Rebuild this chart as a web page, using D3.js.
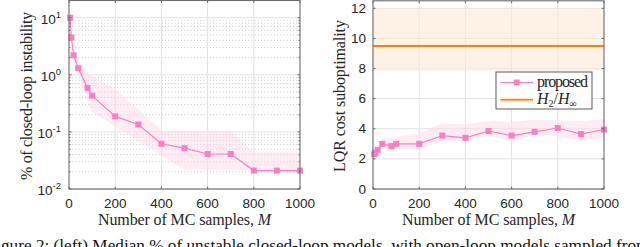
<!DOCTYPE html>
<html>
<head>
<meta charset="utf-8">
<script src="https://cdn.jsdelivr.net/npm/d3@7"></script>
<style>
  body { margin: 0; background: #fff; }
  svg { display: block; }
</style>
</head>
<body>
<svg id="chart" width="640" height="247"></svg>
<script>
// ---- data ----
const samples = [5, 10, 20, 40, 80, 100, 200, 300, 400, 500, 600, 700, 800, 900, 1000]

// left: % closed-loop instability (log scale)
const instabMedian = [10, 4.5, 2.2, 1.31, 0.59, 0.43, 0.187, 0.135, 0.062, 0.052, 0.041, 0.041, 0.021, 0.021, 0.021]
const instabUpper = [10.2, 4.8, 2.5, 1.8, 1.1, 0.95, 0.56, 0.25, 0.105, 0.105, 0.105, 0.105, 0.044, 0.044, 0.044]
const instabLower = [9.5, 4.0, 2.0, 1.1, 0.35, 0.22, 0.126, 0.07, 0.038, 0.022, 0.022, 0.022, 0.021, 0.021, 0.021]

// right: LQR cost suboptimality
const costMedian = [2.3, 2.4, 2.6, 3.0, 2.85, 3.0, 3.0, 3.55, 3.4, 3.85, 3.55, 3.8, 4.05, 3.65, 3.95]
const costUpper = [2.6, 2.7, 2.9, 3.35, 3.4, 3.45, 3.7, 4.35, 4.3, 4.5, 4.45, 4.6, 4.55, 4.5, 4.65]
const costLower = [2.1, 2.15, 2.3, 2.7, 2.6, 2.65, 2.65, 3.15, 3.2, 3.55, 3.15, 3.6, 3.5, 3.15, 3.45]
const hinfValue = 9.5
const hinfBand = [7.85, 12.0]

const xTicks = [0, 200, 400, 600, 800, 1000]
const logTicks = [0.01, 0.1, 1, 10]
const logExps = ["-2", "-1", "0", "1"]
const costTicks = [0, 2, 4, 6, 8, 10, 12]

const PINK = "#fb7fc0"
const PINK_BAND = "#fbd9ea"
const ORANGE = "#ff8000"
const ORANGE_BAND = "#fde8d4"
const AXIS = "#6b6b6b"
const TXT = "#262626"
const SANS = "'Liberation Sans', Arial, sans-serif"
const SERIF = "'Liberation Serif', 'Times New Roman', serif"

const svg = d3.select("#chart")

function panel({ left, right, top, bottom, y, yTickVals, minor }) {
  const x = d3.scaleLinear().domain([0, 1000]).range([left, right])
  const g = svg.append("g")

  // minor dotted grid (log axis only)
  if (minor) {
    g.append("g").selectAll("line").data(minor).join("line")
      .attr("x1", left).attr("x2", right)
      .attr("y1", (d) => y(d)).attr("y2", (d) => y(d))
      .attr("stroke", "#b8b8b8").attr("stroke-width", 0.8)
      .attr("stroke-dasharray", "1,2.2")
  }
  // major grid
  g.append("g").selectAll("line").data(xTicks.slice(1, -1)).join("line")
    .attr("x1", (d) => x(d)).attr("x2", (d) => x(d))
    .attr("y1", top).attr("y2", bottom)
    .attr("stroke", "#e2e2e2").attr("stroke-width", 1)
  g.append("g").selectAll("line").data(yTickVals).join("line")
    .attr("x1", left).attr("x2", right)
    .attr("y1", (d) => y(d)).attr("y2", (d) => y(d))
    .attr("stroke", "#e2e2e2").attr("stroke-width", 1)

  return { x, g }
}

function frame({ g, x, y, left, right, top, bottom, yTickVals, minor }) {
  const tl = 2.5
  const tg = g.append("g").attr("stroke", AXIS).attr("stroke-width", 1)
  xTicks.forEach((v) => {
    tg.append("line").attr("x1", x(v)).attr("x2", x(v)).attr("y1", bottom).attr("y2", bottom - tl)
    tg.append("line").attr("x1", x(v)).attr("x2", x(v)).attr("y1", top).attr("y2", top + tl)
  })
  yTickVals.forEach((v) => {
    tg.append("line").attr("x1", left).attr("x2", left + tl).attr("y1", y(v)).attr("y2", y(v))
    tg.append("line").attr("x1", right).attr("x2", right - tl).attr("y1", y(v)).attr("y2", y(v))
  })
  ;(minor || []).forEach((v) => {
    tg.append("line").attr("x1", left).attr("x2", left + 1.5).attr("y1", y(v)).attr("y2", y(v))
    tg.append("line").attr("x1", right).attr("x2", right - 1.5).attr("y1", y(v)).attr("y2", y(v))
  })
  g.append("rect")
    .attr("x", left).attr("y", top)
    .attr("width", right - left).attr("height", bottom - top)
    .attr("fill", "none").attr("stroke", AXIS).attr("stroke-width", 1.1)

  g.append("g").selectAll("text").data(xTicks).join("text")
    .attr("x", (d) => x(d)).attr("y", bottom + 19)
    .attr("text-anchor", "middle")
    .attr("font-family", SANS).attr("font-size", 13.5).attr("fill", TXT)
    .text((d) => d)

  const xl = g.append("text")
    .attr("x", (left + right) / 2).attr("y", 224.5)
    .attr("text-anchor", "middle")
    .attr("font-family", SERIF).attr("font-size", 16).attr("fill", TXT)
    .attr("textLength", 173).attr("lengthAdjust", "spacing")
  xl.append("tspan").text("Number of MC samples, ")
  xl.append("tspan").attr("font-style", "italic").text("M")
}

function series(g, x, y, med, up, lo) {
  const area = d3.area()
    .x((d, i) => x(samples[i]))
    .y0((d, i) => y(lo[i]))
    .y1((d, i) => y(up[i]))
  g.append("path").datum(med).attr("d", area)
    .attr("fill", PINK_BAND).attr("opacity", 0.5)
  const line = d3.line().x((d, i) => x(samples[i])).y((d) => y(d))
  g.append("path").datum(med).attr("d", line)
    .attr("fill", "none").attr("stroke", PINK).attr("stroke-width", 1.2)
  g.append("g").selectAll("rect").data(med).join("rect")
    .attr("x", (d, i) => x(samples[i]) - 3).attr("y", (d) => y(d) - 3)
    .attr("width", 6).attr("height", 6)
    .attr("fill", PINK)
}

// ---------- left panel ----------
{
  const left = 69, right = 300, top = 0.5, bottom = 189
  const y = d3.scaleLog().domain([0.01, 20]).range([bottom, top])
  const minor = []
  ;[0.01, 0.1, 1, 10].forEach((b) => {
    for (let k = 2; k <= 9; k++) if (b * k <= 20) minor.push(b * k)
  })
  const { x, g } = panel({ left, right, top, bottom, y, yTickVals: logTicks, minor })
  series(g, x, y, instabMedian, instabUpper, instabLower)
  frame({ g, x, y, left, right, top, bottom, yTickVals: logTicks, minor })

  const yl = g.append("g").selectAll("text").data(logTicks).join("text")
    .attr("x", left - 8).attr("y", (d) => y(d) + 6)
    .attr("text-anchor", "end")
    .attr("font-family", SANS).attr("font-size", 13.5).attr("fill", TXT)
  yl.append("tspan").text("10")
  yl.append("tspan").attr("dy", -6).attr("font-size", 9.5).text((d, i) => logExps[i])

  g.append("text")
    .attr("transform", `translate(32,96) rotate(-90)`)
    .attr("text-anchor", "middle")
    .attr("font-family", SERIF).attr("font-size", 16).attr("fill", TXT)
    .attr("textLength", 168).attr("lengthAdjust", "spacing")
    .text("% of closed-loop instability")
}

// ---------- right panel ----------
{
  const left = 373, right = 604, top = 0.8, bottom = 189
  const y = d3.scaleLinear().domain([0, 12.5]).range([bottom, top])
  const { x, g } = panel({ left, right, top, bottom, y, yTickVals: costTicks })

  g.append("rect")
    .attr("x", left).attr("width", right - left)
    .attr("y", y(hinfBand[1])).attr("height", y(hinfBand[0]) - y(hinfBand[1]))
    .attr("fill", ORANGE_BAND).attr("opacity", 0.6)
  g.append("line")
    .attr("x1", left).attr("x2", right)
    .attr("y1", y(hinfValue)).attr("y2", y(hinfValue))
    .attr("stroke", ORANGE).attr("stroke-width", 2)

  series(g, x, y, costMedian, costUpper, costLower)
  frame({ g, x, y, left, right, top, bottom, yTickVals: costTicks })

  g.append("g").selectAll("text").data(costTicks).join("text")
    .attr("x", left - 7).attr("y", (d) => y(d) + 4.5)
    .attr("text-anchor", "end")
    .attr("font-family", SANS).attr("font-size", 13.5).attr("fill", TXT)
    .text((d) => d)

  g.append("text")
    .attr("transform", `translate(345,96) rotate(-90)`)
    .attr("text-anchor", "middle")
    .attr("font-family", SERIF).attr("font-size", 16).attr("fill", TXT)
    .attr("textLength", 152).attr("lengthAdjust", "spacing")
    .text("LQR cost suboptimality")

  // legend
  const lg = g.append("g")
  lg.append("rect").attr("x", 496).attr("y", 72).attr("width", 96).attr("height", 37)
    .attr("fill", "#fff").attr("stroke", "#333").attr("stroke-width", 0.8)
  lg.append("line").attr("x1", 500.5).attr("x2", 533).attr("y1", 82.5).attr("y2", 82.5)
    .attr("stroke", PINK).attr("stroke-width", 1.2)
  lg.append("rect").attr("x", 513.7).attr("y", 79.5).attr("width", 6).attr("height", 6).attr("fill", PINK)
  lg.append("text").attr("x", 537).attr("y", 87)
    .attr("font-family", SERIF).attr("font-size", 16).attr("fill", TXT)
    .attr("textLength", 51).attr("lengthAdjust", "spacing")
    .text("proposed")
  lg.append("rect").attr("x", 500.5).attr("y", 97.5).attr("width", 32.5).attr("height", 4.5)
    .attr("fill", ORANGE_BAND)
  lg.append("line").attr("x1", 500.5).attr("x2", 533).attr("y1", 99.7).attr("y2", 99.7)
    .attr("stroke", ORANGE).attr("stroke-width", 1.6)
  const ht = lg.append("text").attr("x", 537).attr("y", 104)
    .attr("font-family", SERIF).attr("font-size", 16).attr("fill", TXT)
  ht.append("tspan").attr("font-style", "italic").text("H")
  ht.append("tspan").attr("font-size", 10).attr("dy", 3).text("2")
  ht.append("tspan").attr("dy", -3).text("/")
  ht.append("tspan").attr("font-style", "italic").text("H")
  ht.append("tspan").attr("font-size", 10).attr("dy", 3).text("∞")
}

// ---------- caption (cut off at the bottom, as in the source) ----------
{
  const cap = svg.append("text")
    .attr("y", 251)
    .attr("font-family", SERIF).attr("font-size", 15).attr("fill", "#111")
  cap.text("Figure 2: (left) Median % of unstable closed-loop models, with open-loop models sampled from")
  const node = cap.node()
  const fi = node.getSubStringLength(0, 2)
  const upto = node.getSubStringLength(2, "gure 2: (left) Median % of unstable closed-loo".length)
  const s = 319 / upto
  cap.attr("font-size", 15 * s).attr("x", -fi * s + 1)
}
</script>
</body>
</html>
